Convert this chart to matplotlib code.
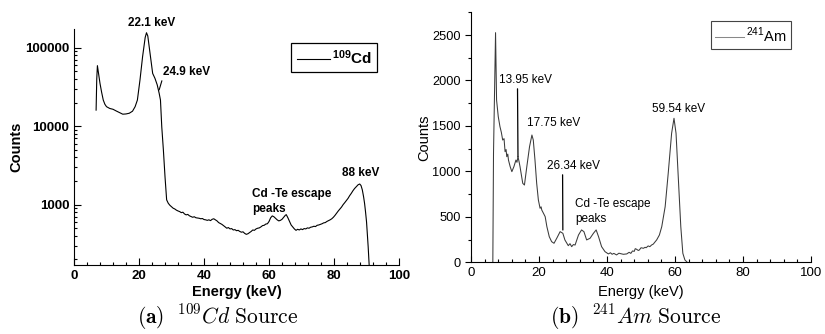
import matplotlib
matplotlib.use("Agg")
import matplotlib.pyplot as plt
from matplotlib.ticker import MultipleLocator, LogLocator, NullFormatter

plt.rcParams["font.family"] = ["Liberation Sans", "DejaVu Sans"]
plt.rcParams["mathtext.fontset"] = "custom"
plt.rcParams["mathtext.rm"] = "Liberation Sans"
plt.rcParams["mathtext.bf"] = "Liberation Sans:bold"

# 109Cd spectrum (log counts)
cd_energy = [6.8, 7.0, 7.2, 7.6, 8.0, 8.5, 9.0, 9.5, 10.0, 11.0, 12.0, 13.0, 14.0, 15.0,
             16.0, 17.0, 18.0, 18.8, 19.5, 20.3, 21.1, 21.9, 22.3, 22.7, 23.4, 24.2,
             24.9, 25.6, 26.2, 26.6, 27.0, 27.5, 28.0, 28.5, 29.0, 29.5, 30.0, 30.5,
             31.0, 31.5, 32.0, 32.5, 33.0, 33.5, 34.0, 34.5, 35.0, 35.5, 36.0, 36.5,
             37.0, 37.5, 38.0, 38.5, 39.0, 39.5, 40.0, 40.5, 41.0, 41.5, 42.0, 42.5,
             43.0, 43.5, 44.0, 44.5, 45.0, 45.5, 46.0, 46.5, 47.0, 47.5, 48.0, 48.5,
             49.0, 49.5, 50.0, 50.5, 51.0, 51.5, 52.0, 52.5, 53.0, 53.5, 54.0, 54.5,
             55.0, 55.5, 56.0, 56.5, 57.0, 57.5, 58.0, 58.5, 59.0, 59.5, 60.0, 60.5,
             61.0, 61.5, 62.0, 62.5, 63.0, 63.5, 64.0, 64.5, 65.0, 65.3, 65.8, 66.3,
             66.8, 67.3, 67.8, 68.3, 68.8, 69.3, 69.8, 70.3, 70.8, 71.3, 71.8, 72.3,
             72.8, 73.3, 73.8, 74.3, 74.8, 75.3, 75.8, 76.3, 76.8, 77.3, 77.8, 78.3,
             78.8, 79.3, 79.8, 80.3, 80.8, 81.3, 81.8, 82.3, 82.8, 83.3, 83.8, 84.3,
             84.8, 85.3, 85.8, 86.3, 86.9, 87.4, 87.9, 88.3, 88.7, 89.1, 89.4, 89.7,
             90.0, 90.5, 91.0]
cd_counts = [16000, 40000, 59000, 45000, 35000, 27000, 21500, 19000, 17700, 16800, 16400,
             15600, 14900, 14200, 14300, 14600, 15500, 17700, 21500, 38800, 76800, 135000,
             155000, 141000, 85000, 47000, 40700, 33600, 26200, 21500, 9800, 4950, 2260,
             1150, 1040, 980, 940, 900, 880, 850, 830, 815, 790, 800, 760, 740, 750, 720,
             705, 690, 700, 680, 675, 670, 660, 665, 645, 640, 630, 640, 625, 650, 660,
             640, 620, 590, 575, 560, 540, 520, 500, 510, 490, 495, 475, 480, 465, 470,
             455, 445, 450, 430, 418, 425, 440, 455, 475, 470, 490, 500, 505, 520, 540,
             545, 565, 570, 610, 680, 718, 700, 670, 640, 620, 630, 650, 690, 730, 745,
             680, 610, 550, 520, 490, 470, 485, 475, 490, 480, 495, 490, 505, 500, 515,
             520, 530, 525, 545, 550, 560, 570, 585, 590, 610, 625, 640, 660, 690, 730,
             780, 830, 880, 930, 1000, 1060, 1130, 1200, 1300, 1390, 1500, 1600, 1700,
             1790, 1830, 1750, 1540, 1250, 1030, 800, 600, 290, 120]

# 241Am spectrum (linear counts)
am_energy = [6.4, 6.6, 7.2, 7.5, 8.0, 8.5, 8.9, 9.3, 9.7, 10.0, 10.3, 10.5, 10.8, 11.0,
             11.5, 12.0, 12.6, 13.2, 13.5, 13.8, 14.1, 14.4, 15.2, 15.7, 16.4, 17.2,
             17.9, 18.3, 18.8, 19.3, 19.8, 20.3, 20.6, 20.8, 21.3, 21.8, 22.3, 23.0,
             23.7, 24.4, 25.2, 26.2, 27.0, 27.6, 28.6, 29.1, 29.6, 30.1, 30.6, 31.6,
             32.5, 33.2, 34.0, 35.0, 36.0, 36.8, 37.5, 38.4, 39.4, 40.4, 41.0, 41.5,
             42.0, 42.8, 43.5, 44.0, 44.8, 45.8, 46.5, 47.0, 47.5, 48.0, 48.3, 48.7,
             49.2, 49.5, 50.0, 50.7, 51.2, 51.5, 52.1, 52.6, 53.1, 53.6, 54.6, 55.4,
             56.1, 57.1, 58.0, 59.0, 59.7, 60.3, 61.0, 61.7, 62.3, 62.9, 63.6]
am_counts = [0, 1200, 2526, 1785, 1602, 1492, 1430, 1345, 1360, 1217, 1240, 1162, 1190,
             1125, 1052, 997, 1052, 1125, 1100, 1162, 1110, 1052, 869, 850, 1052, 1272,
             1400, 1345, 1125, 869, 685, 594, 610, 575, 539, 502, 392, 282, 227, 209, 264,
             337, 319, 246, 183, 205, 172, 195, 190, 300, 356, 337, 246, 264, 319, 356,
             282, 172, 117, 92, 105, 88, 98, 81, 100, 95, 88, 92, 110, 98, 125, 120, 150,
             143, 130, 135, 160, 154, 165, 160, 180, 172, 190, 200, 246, 300, 392, 612,
             979, 1419, 1584, 1419, 905, 392, 99, 26, 0]

fig = plt.figure(figsize=(8.25, 3.34), dpi=100)
ax1 = fig.add_axes([0.0897, 0.2066, 0.394, 0.7066])
ax2 = fig.add_axes([0.571, 0.2147, 0.412, 0.7485])

# --- (a) 109Cd, log scale ---
ax1.plot(cd_energy, cd_counts, color="black", lw=0.8, label=r"$\mathbf{^{109}}$Cd")
ax1.set_yscale("log")
ax1.set_xlim(0, 100)
ax1.set_ylim(170, 173000)
ax1.set_yticks([1000, 10000, 100000])
ax1.set_yticklabels(["1000", "10000", "100000"])
ax1.yaxis.set_minor_locator(LogLocator(base=10, subs=range(2, 10)))
ax1.yaxis.set_minor_formatter(NullFormatter())
ax1.xaxis.set_major_locator(MultipleLocator(20))
ax1.xaxis.set_minor_locator(MultipleLocator(4))
ax1.tick_params(which="both", direction="in", labelsize=9.5, width=0.8)
ax1.tick_params(which="major", length=5)
ax1.tick_params(which="minor", length=2.5)
for lbl in ax1.get_xticklabels() + ax1.get_yticklabels():
    lbl.set_fontweight("bold")
ax1.set_xlabel("Energy (keV)", fontsize=10.5, fontweight="bold")
ax1.set_ylabel("Counts", fontsize=10.5, fontweight="bold")
ax1.xaxis.set_label_coords(0.5, -0.085)
ax1.yaxis.set_label_coords(-0.157, 0.5)

ann = dict(fontsize=8.5, fontweight="bold")
ax1.annotate("22.1 keV", xy=(23.9, 206000), ha="center", va="center",
             annotation_clip=False, **ann)
ax1.annotate("24.9 keV", xy=(26.2, 29000), xytext=(27.4, 49000), ha="left", va="center",
             arrowprops=dict(arrowstyle="-", lw=0.8, color="black", relpos=(0, 0.1),
                             shrinkA=0, shrinkB=0), **ann)
ax1.annotate("88 keV", xy=(88.3, 2535), ha="center", va="center", **ann)
ax1.annotate("Cd -Te escape\npeaks", xy=(54.8, 1099), ha="left", va="center",
             linespacing=1.25, **ann)

leg1 = ax1.legend(loc="upper right", bbox_to_anchor=(0.932, 0.941), fancybox=False,
                  edgecolor="black", framealpha=1, handlelength=2.2, handletextpad=0.1,
                  borderpad=0.35, borderaxespad=0, prop=dict(size=11, weight="bold"))
leg1.get_frame().set_linewidth(0.9)

# --- (b) 241Am, linear scale ---
ax2.plot(am_energy, am_counts, color="#3a3a3a", lw=0.75, label=r"$^{241}$Am")
ax2.set_xlim(0, 100)
ax2.set_ylim(0, 2750)
ax2.yaxis.set_major_locator(MultipleLocator(500))
ax2.yaxis.set_minor_locator(MultipleLocator(250))
ax2.xaxis.set_major_locator(MultipleLocator(20))
ax2.xaxis.set_minor_locator(MultipleLocator(4))
ax2.tick_params(axis="x", which="both", direction="in", labelsize=9.5, width=0.8)
ax2.tick_params(axis="y", which="both", direction="out", labelsize=9.2, width=0.8)
ax2.tick_params(which="major", length=4)
ax2.tick_params(which="minor", length=2)
ax2.set_xlabel("Energy (keV)", fontsize=10.5)
ax2.set_ylabel("Counts", fontsize=10.5)
ax2.xaxis.set_label_coords(0.5, -0.09)
ax2.yaxis.set_label_coords(-0.118, 0.5)

ann2 = dict(fontsize=8.5)
ax2.annotate("13.95 keV", xy=(13.8, 1160), xytext=(8.2, 2005), ha="left", va="center",
             arrowprops=dict(arrowstyle="-", lw=0.9, color="black", relpos=(0.35, 0),
                             shrinkA=0, shrinkB=0), **ann2)
ax2.annotate("17.75 keV", xy=(16.5, 1531), ha="left", va="center", **ann2)
ax2.annotate("26.34 keV", xy=(27.0, 355), xytext=(22.4, 1059), ha="left", va="center",
             arrowprops=dict(arrowstyle="-", lw=0.9, color="black", relpos=(0.29, 0),
                             shrinkA=0, shrinkB=0), **ann2)
ax2.annotate("Cd -Te escape\npeaks", xy=(30.6, 559), ha="left", va="center",
             linespacing=1.25, **ann2)
ax2.annotate("59.54 keV", xy=(60.9, 1686), ha="center", va="center", **ann2)

leg2 = ax2.legend(loc="upper right", bbox_to_anchor=(0.941, 0.964), fancybox=False,
                  edgecolor="#444444", framealpha=1, handlelength=2.0, handletextpad=0.1,
                  borderpad=0.3, borderaxespad=0, prop=dict(size=10.5))
leg2.get_frame().set_linewidth(0.8)
leg2.get_lines()[0].set_color("#888888")

for ax in (ax1, ax2):
    ax.spines["top"].set_visible(False)
    ax.spines["right"].set_visible(False)
    ax.spines["left"].set_linewidth(0.8)
    ax.spines["bottom"].set_linewidth(0.8)

# sub-figure captions
fig.text(0.264, 0.051, r"$\mathbf{(a)}\ \ {}^{109}Cd\ \mathrm{Source}$", ha="center",
         va="center", fontsize=15.5, math_fontfamily="cm")
fig.text(0.771, 0.051, r"$\mathbf{(b)}\ \ {}^{241}Am\ \mathrm{Source}$", ha="center",
         va="center", fontsize=15.5, math_fontfamily="cm")

fig.savefig("out.png", dpi=100)
